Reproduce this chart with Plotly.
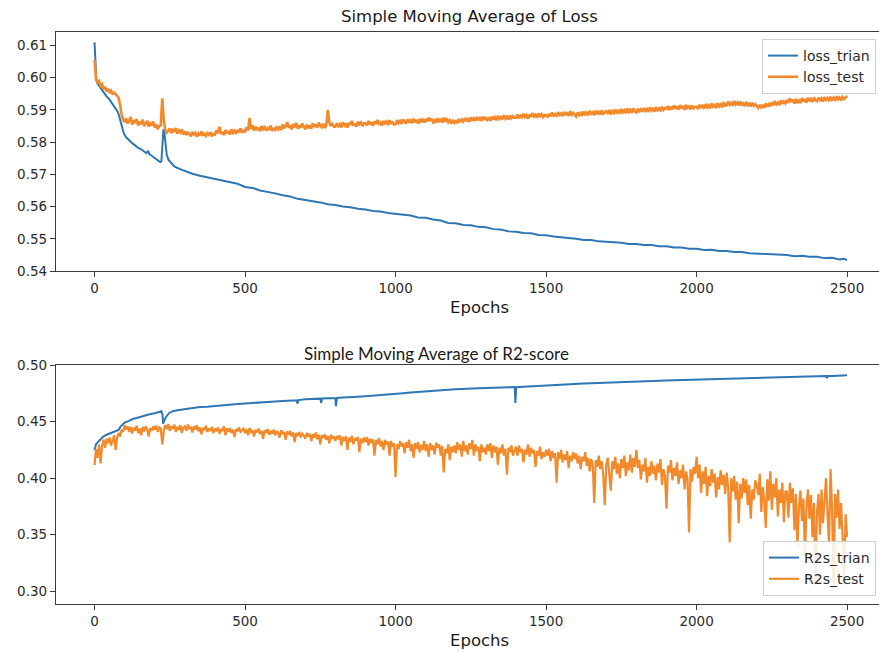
import plotly.graph_objects as go

# ---------------- data ----------------
loss_train_points = [
    (0, 0.6110), (3, 0.6040), (6, 0.5995), (10, 0.5982), (20, 0.5968), (30, 0.5955),
    (40, 0.5942), (50, 0.5932), (60, 0.5918), (70, 0.5905), (78, 0.5893), (85, 0.5870),
    (90, 0.5848), (97, 0.5828), (105, 0.5815), (115, 0.5805), (125, 0.5797), (135, 0.5790),
    (145, 0.5782), (155, 0.5778), (165, 0.5772), (172, 0.5766), (178, 0.5773), (182, 0.5763),
    (190, 0.5758), (200, 0.5750), (210, 0.5744), (218, 0.5738), (222, 0.5740), (226, 0.5808),
    (229, 0.5840), (232, 0.5830), (236, 0.5790), (240, 0.5760), (246, 0.5745), (255, 0.5735),
    (265, 0.5725), (280, 0.5718), (300, 0.5710), (325, 0.5702), (350, 0.5696), (375, 0.5691),
    (400, 0.5688), (425, 0.5683), (450, 0.5676), (475, 0.5671), (500, 0.5661), (525, 0.5658),
    (550, 0.5650), (575, 0.5646), (600, 0.5641), (625, 0.5635), (650, 0.5631), (675, 0.5624),
    (700, 0.5621), (725, 0.5616), (750, 0.5613), (775, 0.5607), (800, 0.5605), (825, 0.5600),
    (850, 0.5598), (875, 0.5593), (900, 0.5591), (925, 0.5586), (950, 0.5585), (975, 0.5580),
    (1000, 0.5578), (1025, 0.5574), (1050, 0.5572), (1075, 0.5566), (1100, 0.5565), (1125, 0.5560),
    (1150, 0.5557), (1175, 0.5549), (1200, 0.5548), (1225, 0.5543), (1250, 0.5542), (1275, 0.5537),
    (1300, 0.5536), (1325, 0.5530), (1350, 0.5529), (1375, 0.5523), (1400, 0.5522), (1425, 0.5518),
    (1450, 0.5517), (1475, 0.5512), (1500, 0.5511), (1525, 0.5507), (1550, 0.5505), (1575, 0.5501),
    (1600, 0.5500), (1625, 0.5496), (1650, 0.5496), (1675, 0.5492), (1700, 0.5491), (1725, 0.5488),
    (1750, 0.5488), (1775, 0.5484), (1800, 0.5484), (1825, 0.5481), (1850, 0.5481), (1875, 0.5477),
    (1900, 0.5477), (1925, 0.5473), (1950, 0.5473), (1975, 0.5469), (2000, 0.5469), (2025, 0.5465),
    (2050, 0.5466), (2075, 0.5462), (2100, 0.5462), (2125, 0.5459), (2150, 0.5459), (2175, 0.5455),
    (2200, 0.5454), (2225, 0.5451), (2250, 0.5452), (2275, 0.5449), (2300, 0.5450), (2325, 0.5446),
    (2350, 0.5447), (2375, 0.5444), (2400, 0.5444), (2425, 0.5440), (2450, 0.5441), (2475, 0.5436),
    (2490, 0.5438), (2500, 0.5434),
]

loss_test_epochs = list(range(0, 2501, 5))
loss_test_values = [
    0.6055, 0.5995, 0.5985, 0.5990, 0.5975, 0.5980, 0.5965, 0.5972, 0.5958, 0.5966, 0.5955, 0.5960, 0.5948, 0.5954, 0.5950, 0.5942, 0.5938, 0.5915, 0.5885, 0.5870,
    0.5862, 0.5874, 0.5858, 0.5866, 0.5878, 0.5855, 0.5868, 0.5860, 0.5872, 0.5852, 0.5864, 0.5856, 0.5870, 0.5850, 0.5861, 0.5866, 0.5848, 0.5858, 0.5852, 0.5864,
    0.5846, 0.5855, 0.5840, 0.5850, 0.5852, 0.5936, 0.5868, 0.5838, 0.5830, 0.5836, 0.5842, 0.5828, 0.5838, 0.5832, 0.5844, 0.5826, 0.5836, 0.5830, 0.5840, 0.5824,
    0.5834, 0.5822, 0.5830, 0.5826, 0.5818, 0.5832, 0.5824, 0.5829, 0.5817, 0.5827, 0.5821, 0.5833, 0.5820, 0.5826, 0.5819, 0.5828, 0.5823, 0.5831, 0.5818, 0.5826,
    0.5824, 0.5836, 0.5828, 0.5848, 0.5825, 0.5832, 0.5822, 0.5838, 0.5827, 0.5834, 0.5824, 0.5840, 0.5829, 0.5835, 0.5826, 0.5838, 0.5830, 0.5843, 0.5829, 0.5836,
    0.5833, 0.5846, 0.5836, 0.5875, 0.5841, 0.5852, 0.5836, 0.5848, 0.5838, 0.5845, 0.5834, 0.5850, 0.5840, 0.5846, 0.5836, 0.5844, 0.5838, 0.5851, 0.5835, 0.5842,
    0.5838, 0.5849, 0.5840, 0.5846, 0.5837, 0.5855, 0.5843, 0.5850, 0.5862, 0.5845, 0.5852, 0.5840, 0.5856, 0.5846, 0.5860, 0.5842, 0.5852, 0.5845, 0.5858, 0.5848,
    0.5840, 0.5854, 0.5844, 0.5852, 0.5842, 0.5858, 0.5848, 0.5855, 0.5845, 0.5861, 0.5850, 0.5846, 0.5857, 0.5844, 0.5853, 0.5900, 0.5862, 0.5850, 0.5856, 0.5848,
    0.5848, 0.5859, 0.5850, 0.5856, 0.5846, 0.5862, 0.5852, 0.5858, 0.5845, 0.5860, 0.5853, 0.5866, 0.5851, 0.5858, 0.5848, 0.5864, 0.5855, 0.5861, 0.5850, 0.5859,
    0.5858, 0.5852, 0.5866, 0.5855, 0.5862, 0.5851, 0.5864, 0.5857, 0.5869, 0.5854, 0.5861, 0.5852, 0.5866, 0.5858, 0.5864, 0.5853, 0.5868, 0.5859, 0.5862, 0.5855,
    0.5856, 0.5868, 0.5860, 0.5866, 0.5857, 0.5870, 0.5862, 0.5858, 0.5871, 0.5863, 0.5868, 0.5859, 0.5873, 0.5862, 0.5869, 0.5858, 0.5872, 0.5864, 0.5870, 0.5861,
    0.5872, 0.5864, 0.5876, 0.5866, 0.5873, 0.5862, 0.5868, 0.5860, 0.5874, 0.5865, 0.5870, 0.5861, 0.5876, 0.5866, 0.5871, 0.5862, 0.5868, 0.5858, 0.5866, 0.5860,
    0.5868, 0.5859, 0.5872, 0.5862, 0.5870, 0.5864, 0.5875, 0.5865, 0.5872, 0.5863, 0.5877, 0.5867, 0.5874, 0.5866, 0.5878, 0.5868, 0.5875, 0.5866, 0.5879, 0.5869,
    0.5878, 0.5869, 0.5874, 0.5866, 0.5880, 0.5870, 0.5877, 0.5868, 0.5882, 0.5872, 0.5878, 0.5871, 0.5884, 0.5873, 0.5879, 0.5870, 0.5883, 0.5874, 0.5881, 0.5876,
    0.5876, 0.5886, 0.5874, 0.5882, 0.5877, 0.5888, 0.5878, 0.5884, 0.5873, 0.5886, 0.5879, 0.5890, 0.5880, 0.5885, 0.5876, 0.5889, 0.5881, 0.5887, 0.5878, 0.5884,
    0.5884, 0.5877, 0.5888, 0.5880, 0.5892, 0.5882, 0.5887, 0.5879, 0.5893, 0.5884, 0.5889, 0.5881, 0.5894, 0.5886, 0.5890, 0.5882, 0.5896, 0.5885, 0.5891, 0.5884,
    0.5880, 0.5892, 0.5884, 0.5890, 0.5882, 0.5895, 0.5886, 0.5892, 0.5883, 0.5897, 0.5888, 0.5893, 0.5884, 0.5898, 0.5889, 0.5894, 0.5886, 0.5899, 0.5888, 0.5893,
    0.5896, 0.5888, 0.5900, 0.5890, 0.5896, 0.5887, 0.5901, 0.5892, 0.5897, 0.5889, 0.5903, 0.5893, 0.5899, 0.5890, 0.5904, 0.5894, 0.5900, 0.5891, 0.5905, 0.5895,
    0.5892, 0.5904, 0.5896, 0.5902, 0.5894, 0.5906, 0.5897, 0.5903, 0.5894, 0.5908, 0.5898, 0.5904, 0.5895, 0.5909, 0.5899, 0.5905, 0.5896, 0.5910, 0.5900, 0.5906,
    0.5904, 0.5912, 0.5900, 0.5910, 0.5902, 0.5914, 0.5904, 0.5911, 0.5901, 0.5915, 0.5905, 0.5912, 0.5900, 0.5916, 0.5906, 0.5911, 0.5902, 0.5914, 0.5905, 0.5910,
    0.5910, 0.5903, 0.5916, 0.5906, 0.5913, 0.5904, 0.5918, 0.5908, 0.5914, 0.5905, 0.5920, 0.5910, 0.5915, 0.5906, 0.5921, 0.5911, 0.5917, 0.5908, 0.5924, 0.5913,
    0.5914, 0.5926, 0.5916, 0.5922, 0.5913, 0.5928, 0.5917, 0.5923, 0.5914, 0.5926, 0.5916, 0.5921, 0.5912, 0.5925, 0.5915, 0.5920, 0.5911, 0.5922, 0.5913, 0.5918,
    0.5912, 0.5906, 0.5916, 0.5908, 0.5914, 0.5907, 0.5920, 0.5910, 0.5918, 0.5912, 0.5924, 0.5914, 0.5928, 0.5917, 0.5923, 0.5915, 0.5930, 0.5919, 0.5926, 0.5920,
    0.5931, 0.5922, 0.5936, 0.5925, 0.5932, 0.5920, 0.5934, 0.5924, 0.5930, 0.5921, 0.5937, 0.5926, 0.5933, 0.5923, 0.5938, 0.5927, 0.5934, 0.5925, 0.5939, 0.5929,
    0.5927, 0.5938, 0.5930, 0.5936, 0.5926, 0.5940, 0.5931, 0.5937, 0.5927, 0.5941, 0.5932, 0.5938, 0.5928, 0.5942, 0.5933, 0.5939, 0.5929, 0.5940, 0.5934, 0.5938,
    0.5944,
]

r2_train_points = [
    (0, 0.4250), (5, 0.4300), (15, 0.4330), (28, 0.4366), (40, 0.4385), (55, 0.4400),
    (70, 0.4418), (80, 0.4428), (88, 0.4462), (100, 0.4492), (115, 0.4508), (127, 0.4524),
    (140, 0.4533), (155, 0.4546), (170, 0.4555), (183, 0.4566), (200, 0.4575), (215, 0.4587),
    (222, 0.4593), (226, 0.4560), (228, 0.4484), (232, 0.4512), (238, 0.4545), (248, 0.4578),
    (260, 0.4594), (275, 0.4601), (300, 0.4612), (325, 0.4619), (350, 0.4631), (375, 0.4634),
    (400, 0.4641), (425, 0.4647), (450, 0.4652), (475, 0.4658), (500, 0.4662), (525, 0.4665),
    (550, 0.4672), (575, 0.4675), (600, 0.4680), (625, 0.4684), (650, 0.4688), (672, 0.4691),
    (674, 0.4660), (677, 0.4692), (700, 0.4699), (725, 0.4702), (750, 0.4705), (753, 0.4667),
    (756, 0.4706), (775, 0.4709), (800, 0.4711), (802, 0.4637), (805, 0.4710), (825, 0.4714),
    (850, 0.4716), (875, 0.4722), (900, 0.4727), (925, 0.4731), (950, 0.4735), (975, 0.4741),
    (1000, 0.4748), (1025, 0.4753), (1050, 0.4759), (1075, 0.4765), (1100, 0.4772), (1125, 0.4776),
    (1150, 0.4781), (1175, 0.4784), (1200, 0.4788), (1225, 0.4793), (1250, 0.4795), (1275, 0.4798),
    (1300, 0.4800), (1325, 0.4802), (1350, 0.4804), (1375, 0.4805), (1396, 0.4807), (1398, 0.4667),
    (1401, 0.4806), (1425, 0.4811), (1450, 0.4815), (1475, 0.4820), (1500, 0.4824), (1525, 0.4828),
    (1550, 0.4831), (1575, 0.4834), (1600, 0.4836), (1625, 0.4839), (1650, 0.4841), (1675, 0.4844),
    (1700, 0.4846), (1725, 0.4849), (1750, 0.4851), (1775, 0.4853), (1800, 0.4855), (1825, 0.4858),
    (1850, 0.4860), (1875, 0.4863), (1900, 0.4865), (1925, 0.4867), (1950, 0.4869), (1975, 0.4871),
    (2000, 0.4873), (2025, 0.4875), (2050, 0.4877), (2075, 0.4879), (2100, 0.4881), (2125, 0.4883),
    (2150, 0.4885), (2175, 0.4887), (2200, 0.4889), (2225, 0.4891), (2250, 0.4893), (2275, 0.4895),
    (2300, 0.4897), (2325, 0.4898), (2350, 0.4900), (2375, 0.4901), (2400, 0.4903), (2430, 0.4905),
    (2433, 0.4888), (2436, 0.4905), (2450, 0.4906), (2475, 0.4909), (2500, 0.4912),
]

r2_test_epochs = list(range(0, 2501, 5))
r2_test_values = [
    0.4115, 0.4260, 0.4180, 0.4300, 0.4130, 0.4290, 0.4340, 0.4270, 0.4350, 0.4310, 0.4360, 0.4290, 0.4330, 0.4380, 0.4250, 0.4360, 0.4400, 0.4370, 0.4430, 0.4410,
    0.4470, 0.4430, 0.4460, 0.4410, 0.4455, 0.4395, 0.4450, 0.4420, 0.4465, 0.4400, 0.4440, 0.4380, 0.4455, 0.4415, 0.4460, 0.4430, 0.4370, 0.4445, 0.4420, 0.4460,
    0.4430, 0.4465, 0.4410, 0.4450, 0.4440, 0.4300, 0.4420, 0.4470, 0.4435, 0.4480, 0.4420, 0.4460, 0.4440, 0.4475, 0.4410, 0.4455, 0.4430, 0.4470, 0.4400, 0.4450,
    0.4460, 0.4420, 0.4475, 0.4435, 0.4455, 0.4405, 0.4460, 0.4430, 0.4470, 0.4415, 0.4450, 0.4390, 0.4445, 0.4425, 0.4465, 0.4410, 0.4440, 0.4420, 0.4455, 0.4400,
    0.4440, 0.4415, 0.4450, 0.4395, 0.4435, 0.4420, 0.4460, 0.4380, 0.4440, 0.4410, 0.4445, 0.4400, 0.4430, 0.4365, 0.4435, 0.4415, 0.4450, 0.4405, 0.4425, 0.4440,
    0.4400, 0.4435, 0.4380, 0.4445, 0.4410, 0.4425, 0.4370, 0.4430, 0.4405, 0.4440, 0.4390, 0.4420, 0.4350, 0.4425, 0.4400, 0.4435, 0.4385, 0.4420, 0.4395, 0.4430,
    0.4380, 0.4420, 0.4400, 0.4360, 0.4425, 0.4390, 0.4410, 0.4340, 0.4415, 0.4385, 0.4420, 0.4370, 0.4405, 0.4320, 0.4400, 0.4375, 0.4410, 0.4360, 0.4395, 0.4380,
    0.4350, 0.4400, 0.4370, 0.4395, 0.4330, 0.4390, 0.4360, 0.4405, 0.4345, 0.4385, 0.4300, 0.4380, 0.4355, 0.4390, 0.4340, 0.4375, 0.4310, 0.4385, 0.4350, 0.4370,
    0.4330, 0.4375, 0.4345, 0.4380, 0.4290, 0.4365, 0.4330, 0.4370, 0.4250, 0.4360, 0.4320, 0.4375, 0.4300, 0.4355, 0.4335, 0.4365, 0.4230, 0.4350, 0.4310, 0.4360,
    0.4320, 0.4365, 0.4290, 0.4350, 0.4310, 0.4345, 0.4200, 0.4340, 0.4300, 0.4355, 0.4280, 0.4330, 0.4250, 0.4340, 0.4295, 0.4325, 0.4200, 0.4330, 0.4280, 0.4310,
    0.4010, 0.4300, 0.4260, 0.4330, 0.4280, 0.4310, 0.4220, 0.4320, 0.4270, 0.4340, 0.4240, 0.4300, 0.4180, 0.4310, 0.4260, 0.4320, 0.4230, 0.4295, 0.4250, 0.4330,
    0.4240, 0.4300, 0.4190, 0.4310, 0.4250, 0.4290, 0.4210, 0.4315, 0.4270, 0.4300, 0.4200, 0.4285, 0.4050, 0.4260, 0.4220, 0.4300, 0.4160, 0.4280, 0.4230, 0.4290,
    0.4220, 0.4320, 0.4250, 0.4300, 0.4190, 0.4330, 0.4240, 0.4290, 0.4210, 0.4310, 0.4260, 0.4340, 0.4200, 0.4300, 0.4240, 0.4280, 0.4150, 0.4300, 0.4230, 0.4270,
    0.4210, 0.4300, 0.4240, 0.4310, 0.4180, 0.4290, 0.4230, 0.4280, 0.4120, 0.4270, 0.4220, 0.4300, 0.4200, 0.4260, 0.4030, 0.4270, 0.4230, 0.4290, 0.4200, 0.4250,
    0.4280, 0.4200, 0.4290, 0.4230, 0.4260, 0.4140, 0.4250, 0.4210, 0.4300, 0.4190, 0.4270, 0.4220, 0.4250, 0.4100, 0.4240, 0.4200, 0.4280, 0.4170, 0.4230, 0.4190,
    0.4250, 0.4200, 0.4260, 0.4150, 0.4240, 0.4180, 0.4220, 0.3960, 0.4230, 0.4170, 0.4250, 0.4140, 0.4210, 0.4160, 0.4240, 0.4090, 0.4200, 0.4150, 0.4230, 0.4170,
    0.4220, 0.4130, 0.4200, 0.4080, 0.4190, 0.4150, 0.4230, 0.4110, 0.4180, 0.4060, 0.4170, 0.4120, 0.3780, 0.4160, 0.4100, 0.4200, 0.4080, 0.4150, 0.4030, 0.3760,
    0.4120, 0.4180, 0.4060, 0.3890, 0.4150, 0.4080, 0.4190, 0.4040, 0.4130, 0.4000, 0.4170, 0.4090, 0.4200, 0.4020, 0.4140, 0.4070, 0.4210, 0.4050, 0.4180, 0.4100,
    0.4250, 0.4090, 0.4160, 0.3990, 0.4120, 0.4060, 0.4180, 0.3960, 0.4100, 0.4020, 0.4150, 0.4040, 0.4110, 0.3980, 0.4130, 0.4050, 0.4170, 0.3940, 0.4080, 0.4020,
    0.3730, 0.4110, 0.4050, 0.4160, 0.3980, 0.4090, 0.4020, 0.4140, 0.3950, 0.4070, 0.4000, 0.4120, 0.3900, 0.4060, 0.3990, 0.3520, 0.4080, 0.3970, 0.4100, 0.4040,
    0.4190, 0.4000, 0.4120, 0.3870, 0.4060, 0.3950, 0.4100, 0.3840, 0.4020, 0.3930, 0.4080, 0.3960, 0.4040, 0.3830, 0.4010, 0.3900, 0.4070, 0.3940, 0.4030, 0.3860,
    0.4050, 0.3920, 0.3430, 0.4000, 0.3880, 0.4020, 0.3810, 0.3970, 0.3600, 0.3950, 0.3820, 0.4000, 0.3870, 0.3990, 0.3760, 0.3940, 0.3640, 0.3900, 0.3810, 0.3980,
    0.3940, 0.3850, 0.4040, 0.3700, 0.3920, 0.3800, 0.3560, 0.3990, 0.3800, 0.4060, 0.3720, 0.3950, 0.3830, 0.4000, 0.3660, 0.3900, 0.3780, 0.3960, 0.3610, 0.3880,
    0.3880, 0.3650, 0.3960, 0.3780, 0.3910, 0.3540, 0.3860, 0.3390, 0.3740, 0.3890, 0.3620, 0.3820, 0.3300, 0.3750, 0.3900, 0.3640, 0.3850, 0.3480, 0.3780, 0.3050,
    0.3700, 0.3860, 0.3500, 0.3900, 0.3600, 0.3780, 0.4000, 0.3680, 0.3420, 0.4080, 0.3740, 0.3020, 0.3860, 0.3650, 0.3900, 0.3550, 0.3780, 0.3480, 0.3050, 0.3680,
    0.3480,
]

x_ticks = [0, 500, 1000, 1500, 2000, 2500]
loss_ticks = [0.54, 0.55, 0.56, 0.57, 0.58, 0.59, 0.60, 0.61]
r2_ticks = [0.30, 0.35, 0.40, 0.45, 0.50]

# ---------------- figure ----------------
W, H = 879, 652
ML, MR, MT, MB = 56, 0, 32, 48
PW, PH = W - ML - MR, H - MT - MB


def px_x(px):
    return (px - ML) / PW


def px_y(py):
    return 1 - (py - MT) / PH


BLUE = "#2f76b4"
ORANGE = "#f28a2c"
AX = "#3a3a3a"
TXT = "#2b2b2b"
MPL = "DejaVu Sans"

fig = go.Figure()
fig.add_trace(go.Scatter(x=[p[0] for p in loss_train_points], y=[p[1] for p in loss_train_points],
                         mode="lines", name="loss_trian", line=dict(color=BLUE, width=2),
                         xaxis="x", yaxis="y", legend="legend"))
fig.add_trace(go.Scatter(x=loss_test_epochs, y=loss_test_values, mode="lines", name="loss_test",
                         line=dict(color=ORANGE, width=2.6), xaxis="x", yaxis="y", legend="legend"))
fig.add_trace(go.Scatter(x=[p[0] for p in r2_train_points], y=[p[1] for p in r2_train_points],
                         mode="lines", name="R2s_trian", line=dict(color=BLUE, width=2),
                         xaxis="x2", yaxis="y2", legend="legend2"))
fig.add_trace(go.Scatter(x=r2_test_epochs, y=r2_test_values, mode="lines", name="R2s_test",
                         line=dict(color=ORANGE, width=2.2), xaxis="x2", yaxis="y2", legend="legend2"))

common_x = dict(range=[-128, 2606], tickvals=x_ticks, ticks="outside", ticklen=5, tickwidth=1.2,
                tickcolor=AX, showline=True, linecolor=AX, linewidth=1.3, mirror=True,
                showgrid=False, zeroline=False, tickfont=dict(family=MPL, size=13.5, color=TXT))
common_y = dict(ticks="outside", ticklen=5, tickwidth=1.2, tickcolor=AX, showline=True,
                linecolor=AX, linewidth=1.3, showgrid=False, zeroline=False, tickformat=".2f",
                tickfont=dict(family=MPL, size=13.5, color=TXT))

top_lo, top_hi = px_y(271), px_y(32)
bot_lo, bot_hi = px_y(604), px_y(365)

fig.update_layout(
    width=W, height=H, margin=dict(l=ML, r=MR, t=MT, b=MB, autoexpand=False),
    paper_bgcolor="white", plot_bgcolor="white", showlegend=True,
    xaxis=dict(common_x, domain=[0, 1], anchor="y"),
    yaxis=dict(common_y, domain=[top_lo, top_hi], range=[0.540, 0.6142], tickvals=loss_ticks, anchor="x"),
    xaxis2=dict(common_x, domain=[0, 1], anchor="y2"),
    yaxis2=dict(common_y, domain=[bot_lo, bot_hi], range=[0.2885, 0.5003], tickvals=r2_ticks, anchor="x2"),
    legend=dict(x=px_x(876), y=px_y(39), xanchor="right", yanchor="top",
                bgcolor="rgba(255,255,255,0.85)", bordercolor="#cfcfcf", borderwidth=1,
                font=dict(family=MPL, size=14, color=TXT), tracegroupgap=0, itemwidth=30),
    legend2=dict(x=px_x(876), y=px_y(596), xanchor="right", yanchor="bottom",
                 bgcolor="rgba(255,255,255,0.85)", bordercolor="#cfcfcf", borderwidth=1,
                 font=dict(family=MPL, size=14, color=TXT), tracegroupgap=0, itemwidth=30),
    annotations=[
        dict(text="Simple Moving Average of Loss", x=px_x(469), y=px_y(16), xref="paper", yref="paper",
             showarrow=False, xanchor="center", yanchor="middle",
             font=dict(family=MPL, size=16.5, color="#1a1a1a")),
        dict(text="Epochs", x=px_x(480), y=px_y(307), xref="paper", yref="paper",
             showarrow=False, xanchor="center", yanchor="middle",
             font=dict(family=MPL, size=16.5, color="#1a1a1a")),
        dict(text="Simple Moving Average of R2-score", x=px_x(436), y=px_y(353), xref="paper", yref="paper",
             showarrow=False, xanchor="center", yanchor="middle",
             font=dict(family="Lato", size=17, color="#1a1a1a")),
        dict(text="Epochs", x=px_x(480), y=px_y(640), xref="paper", yref="paper",
             showarrow=False, xanchor="center", yanchor="middle",
             font=dict(family=MPL, size=16.5, color="#1a1a1a")),
    ],
)

fig.write_html("out.html")
